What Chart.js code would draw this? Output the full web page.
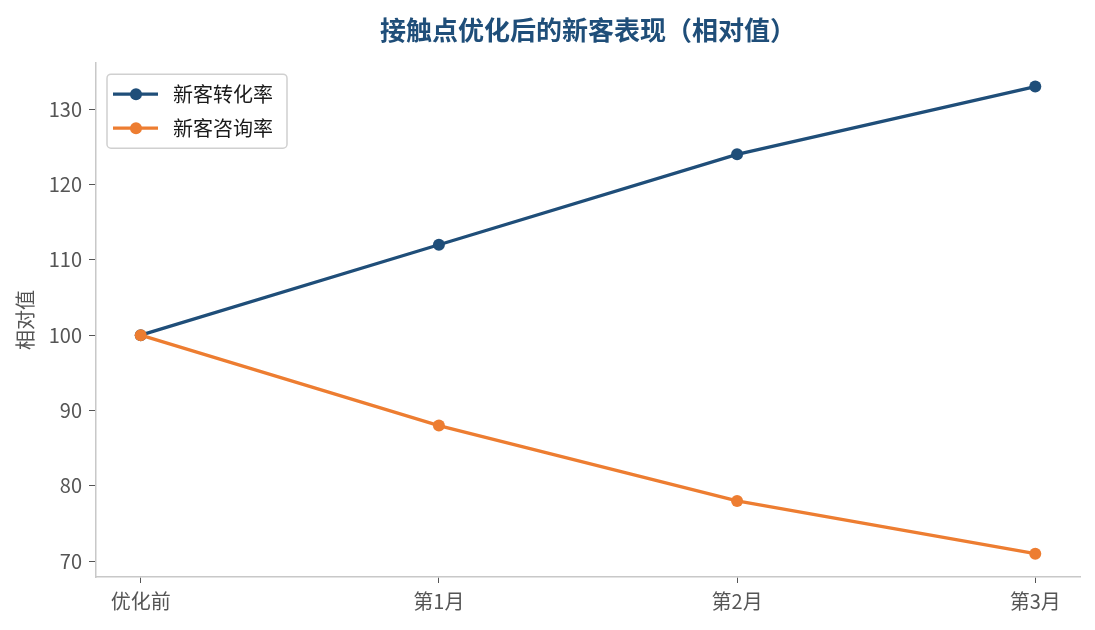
<!DOCTYPE html>
<html>
<head>
<meta charset="utf-8">
<script src="https://cdn.jsdelivr.net/npm/chart.js@4/dist/chart.umd.min.js"></script>
<style>
	html, body { margin: 0; padding: 0; background: #fff; }
	canvas { display: block; }
</style>
</head>
<body>
<canvas id="chart" width="1095" height="630" style="width:1095px;height:630px"></canvas>
<script>
let categories = ['优化前', '第1月', '第2月', '第3月'];
let conversionRate = [100, 112, 124, 133];
let inquiryRate = [100, 88, 78, 71];
let seriesNames = ['新客转化率', '新客咨询率'];
let seriesColors = ['#1f4e79', '#ed7d31'];

let fontFamily = '"Noto Sans CJK SC", "Noto Sans", sans-serif';
let textColor = '#555555';

// legend box drawn inside the plot, top-left
let insetLegend = {
	id: 'insetLegend',
	afterDraw(chart) {
		let ctx = chart.ctx;
		let area = chart.chartArea;
		let x = area.left + 11;
		let y = area.top + 11;
		ctx.save();
		ctx.beginPath();
		ctx.roundRect(x, y, 180, 74, 4);
		ctx.fillStyle = 'rgba(255,255,255,0.85)';
		ctx.fill();
		ctx.lineWidth = 1.5;
		ctx.strokeStyle = '#d0d0d0';
		ctx.stroke();
		chart.data.datasets.forEach((ds, i) => {
			let cy = y + 20 + i * 34;
			ctx.beginPath();
			ctx.moveTo(x + 6, cy);
			ctx.lineTo(x + 51, cy);
			ctx.lineWidth = 3.3;
			ctx.strokeStyle = ds.borderColor;
			ctx.stroke();
			ctx.beginPath();
			ctx.arc(x + 29, cy, 6, 0, Math.PI * 2);
			ctx.fillStyle = ds.borderColor;
			ctx.fill();
			ctx.font = '20px ' + fontFamily;
			ctx.fillStyle = '#1a1a1a';
			ctx.textBaseline = 'middle';
			ctx.textAlign = 'left';
			ctx.fillText(ds.label, x + 66, cy);
		});
		ctx.restore();
	}
};

function makeSeries(values) {
	return values.map((v, i) => ({x: i, y: v}));
}

let ctx = document.getElementById('chart').getContext('2d');
new Chart(ctx, {
	type: 'line',
	data: {
		datasets: [
			{
				label: seriesNames[0],
				data: makeSeries(conversionRate),
				borderColor: seriesColors[0],
				backgroundColor: seriesColors[0],
				borderWidth: 3.3,
				pointRadius: 6,
				pointBorderWidth: 0,
				order: 1
			},
			{
				label: seriesNames[1],
				data: makeSeries(inquiryRate),
				borderColor: seriesColors[1],
				backgroundColor: seriesColors[1],
				borderWidth: 3.3,
				pointRadius: 6,
				pointBorderWidth: 0,
				order: 0
			}
		]
	},
	options: {
		responsive: false,
		animation: false,
		layout: {
			padding: {left: 0, right: 15, top: 0, bottom: 0}
		},
		plugins: {
			legend: {display: false},
			tooltip: {enabled: false},
			title: {
				display: true,
				text: '接触点优化后的新客表现（相对值）',
				fullSize: false,
				color: '#1f4e79',
				font: {family: fontFamily, size: 26, weight: 'bold'},
				padding: {top: 15, bottom: 17}
			}
		},
		scales: {
			x: {
				type: 'linear',
				min: -0.15,
				max: 3.15,
				afterBuildTicks: (scale) => {
					scale.ticks = categories.map((_, i) => ({value: i}));
				},
				afterFit: (scale) => {
					scale.height = 53;
				},
				ticks: {
					callback: (v) => categories[v],
					color: textColor,
					font: {family: fontFamily, size: 20},
					padding: 6,
					maxRotation: 0,
					autoSkip: false
				},
				grid: {
					drawOnChartArea: false,
					drawTicks: true,
					tickLength: 6,
					color: '#555'
				},
				border: {display: true, color: '#c8c8c8', width: 1.5}
			},
			y: {
				min: 67.9,
				max: 136.1,
				afterFit: (scale) => {
					scale.width = 96;
				},
				ticks: {
					stepSize: 10,
					includeBounds: false,
					color: textColor,
					font: {family: fontFamily, size: 20},
					padding: 7
				},
				grid: {
					drawOnChartArea: false,
					drawTicks: true,
					tickLength: 7,
					color: '#555'
				},
				border: {display: true, color: '#c8c8c8', width: 1.5},
				title: {
					display: true,
					text: '相对值',
					color: textColor,
					font: {family: fontFamily, size: 20},
					padding: {top: 13, bottom: 0}
				}
			}
		}
	},
	plugins: [insetLegend]
});
</script>
</body>
</html>
